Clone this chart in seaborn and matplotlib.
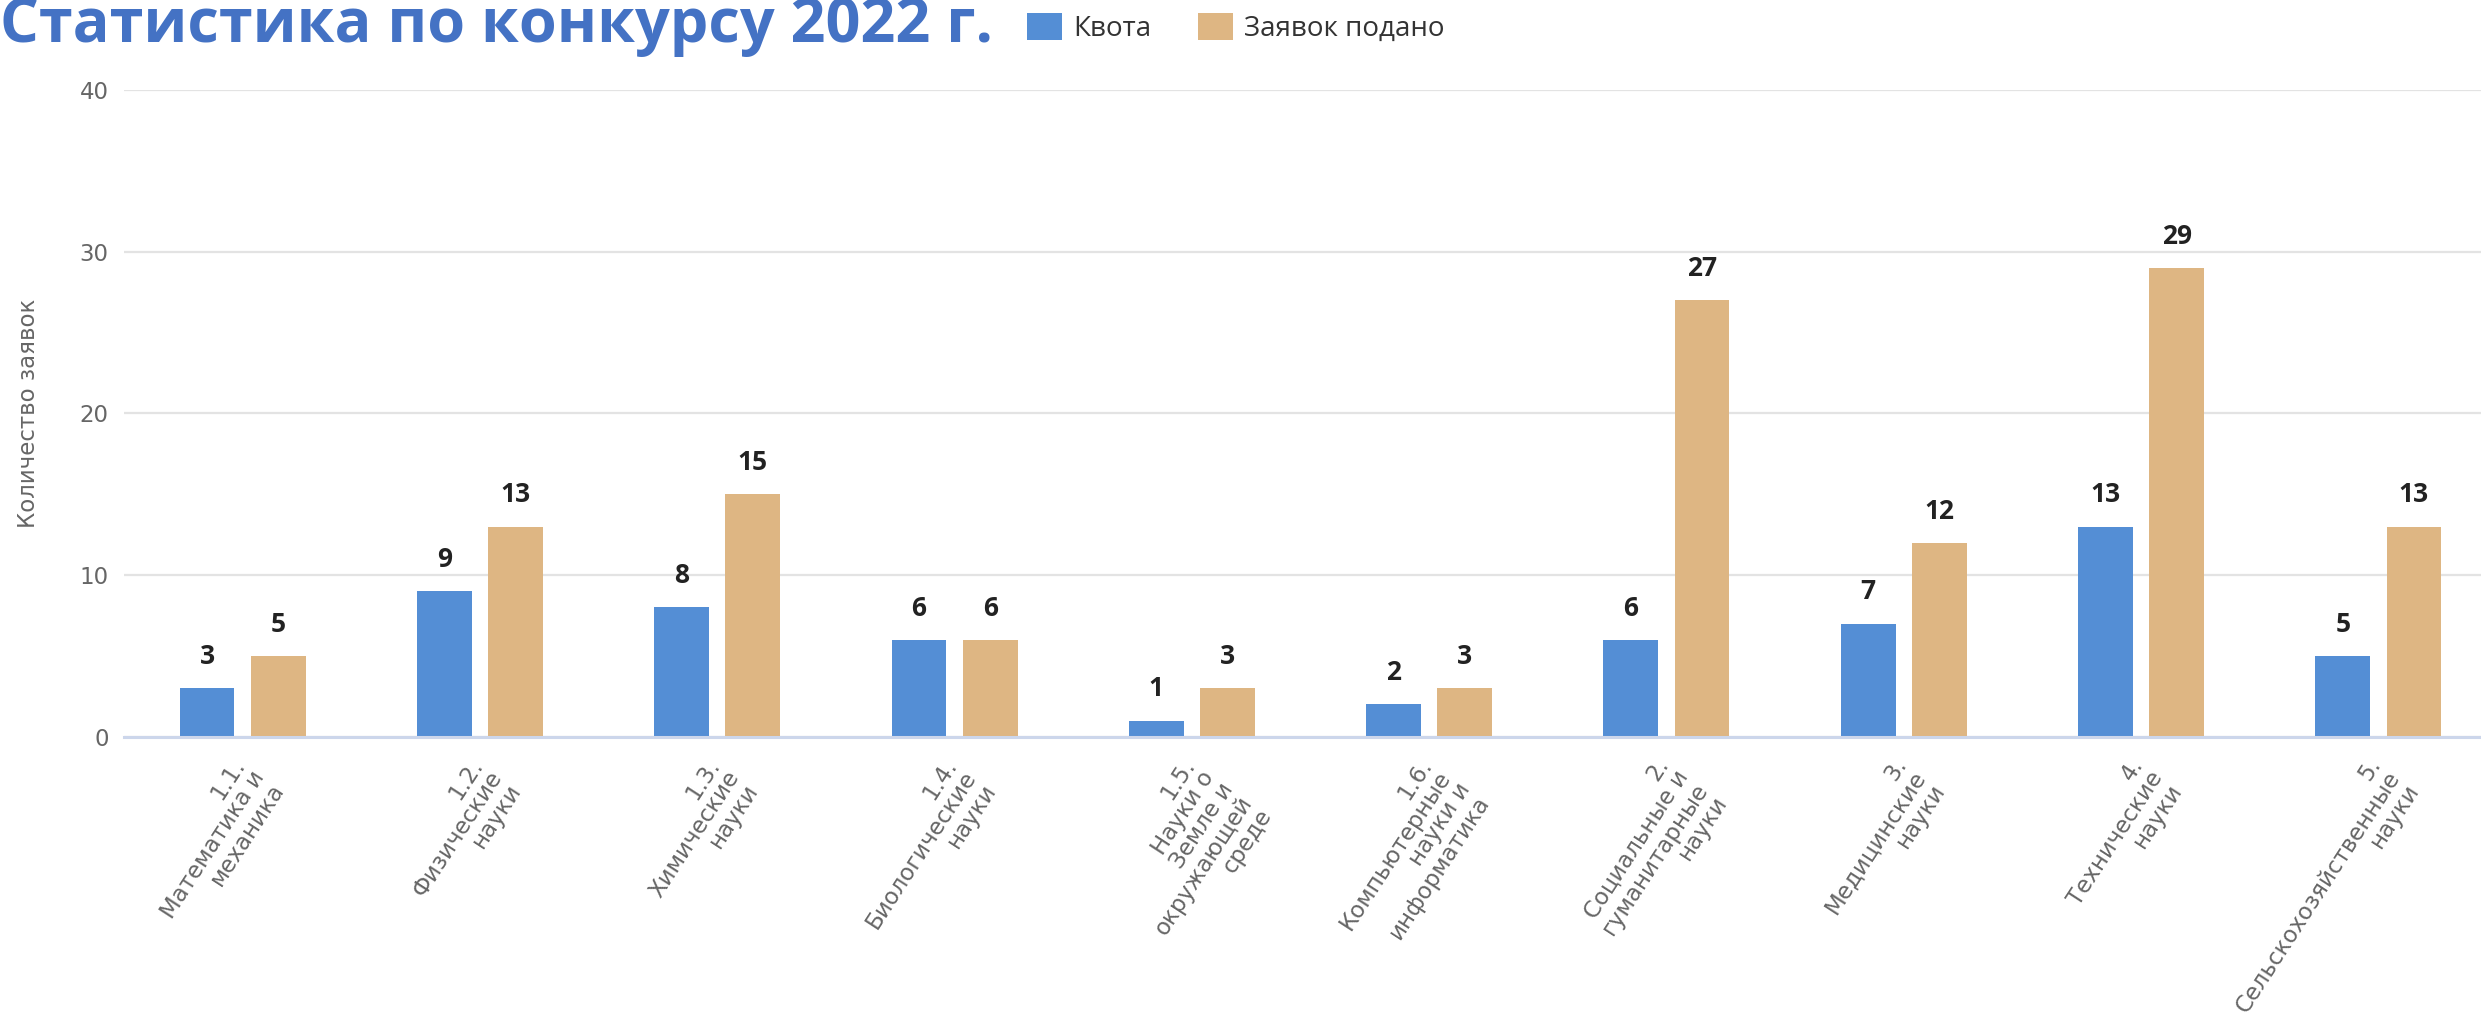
import matplotlib
matplotlib.use("Agg")
import matplotlib.pyplot as plt
import matplotlib.transforms as mtransforms
import seaborn as sns
import pandas as pd
from matplotlib.ticker import FixedLocator

# ---- data ----
categories = [
    "1.1.\nМатематика и\nмеханика",
    "1.2.\nФизические\nнауки",
    "1.3.\nХимические\nнауки",
    "1.4.\nБиологические\nнауки",
    "1.5.\nНауки о\nЗемле и\nокружающей\nсреде",
    "1.6.\nКомпьютерные\nнауки и\nинформатика",
    "2.\nСоциальные и\nгуманитарные\nнауки",
    "3.\nМедицинские\nнауки",
    "4.\nТехнические\nнауки",
    "5.\nСельскохозяйственные\nнауки",
]
kvota = [3, 9, 8, 6, 1, 2, 6, 7, 13, 5]
zayavok = [5, 13, 15, 6, 3, 3, 27, 12, 29, 13]
series_names = ["Квота", "Заявок подано"]
y_ticks = [0, 10, 20, 30, 40]
title_text = "Статистика по конкурсу 2022 г."
y_label = "Количество заявок"

colors = ["#548ED5", "#DEB683"]

df = pd.DataFrame({
    "cat": categories * 2,
    "value": kvota + zayavok,
    "series": [series_names[0]] * len(categories) + [series_names[1]] * len(categories),
})

sns.set_style("white")
plt.rcParams["font.family"] = ["DejaVu Sans"]

W, H = 2481, 1025
fig = plt.figure(figsize=(W / 100, H / 100), dpi=100)
ax_left, ax_bottom_px, ax_top_px = 124, 736.7, 90
ax = fig.add_axes([ax_left / W, (H - ax_bottom_px) / H, 1 - ax_left / W, (ax_bottom_px - ax_top_px) / H])

sns.barplot(data=df, x="cat", y="value", hue="series", order=categories,
            hue_order=series_names, palette=colors, width=0.6, gap=0.23,
            linewidth=0, saturation=1, ax=ax, errorbar=None)

handles, labels = ax.get_legend_handles_labels()
if ax.get_legend() is not None:
    ax.get_legend().remove()

# value labels
for cont in ax.containers:
    ax.bar_label(cont, padding=13, fontsize=19, fontweight="bold", color="#222222",
                 family="Open Sans")

ax.set_ylim(0, 40)
ax.set_xlim(-0.5, -0.5 + (W - ax_left) / 237.3)
ax.set_yticks(y_ticks)
ax.yaxis.grid(True, color="#e3e3e3", linewidth=1.6)
ax.set_axisbelow(True)
for s in ["top", "right", "left"]:
    ax.spines[s].set_visible(False)
ax.spines["bottom"].set_color("#ccd6eb")
ax.spines["bottom"].set_linewidth(2.2)

ax.tick_params(axis="y", length=0, pad=11, labelsize=16.5, labelcolor="#666666")
ax.set_xlabel("")
ax.set_xticks(range(len(categories)))
ax.set_xticklabels(categories, rotation=57, ha="right", va="top",
                   rotation_mode="anchor", multialignment="right",
                   fontsize=16.5, color="#666666", linespacing=1.0)
ax.tick_params(axis="x", which="major", length=0, pad=12.6)
shift = mtransforms.ScaledTranslation(-12 / 100, 0, fig.dpi_scale_trans)
for lab in ax.get_xticklabels():
    lab.set_transform(lab.get_transform() + shift)
ax.xaxis.set_minor_locator(FixedLocator([i - 0.5 for i in range(len(categories) + 1)]))
ax.tick_params(axis="x", which="minor", length=15, width=1.3, color="#ccd6eb")

ax.set_ylabel(y_label, fontsize=16.5, color="#666666")
ax.yaxis.set_label_coords(40 / W, 1 - 413 / H, transform=fig.transFigure)

# title
fig.text(0.0, 1 - 42 / H, title_text, fontsize=44, fontweight="bold",
         color="#4472C4", family="Open Sans", ha="left", va="baseline")

# legend
fig.legend(handles, labels, loc="center left", bbox_to_anchor=(1027 / W, 1 - 28 / H),
           ncol=2, frameon=False, handlelength=1.25, handleheight=1.1,
           handletextpad=0.4, columnspacing=1.7, borderpad=0, borderaxespad=0,
           labelcolor="#333333", prop={"family": "Open Sans", "size": 20})

fig.savefig("out.png", dpi=100)
